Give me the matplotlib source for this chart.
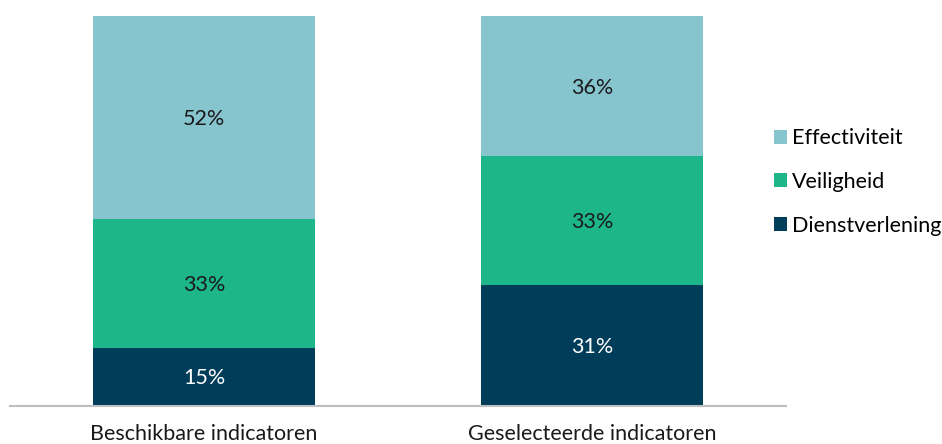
import matplotlib.pyplot as plt

categories = ["Beschikbare indicatoren", "Geselecteerde indicatoren"]
dienstverlening = [15, 31]
veiligheid = [33, 33]
effectiviteit = [52, 36]

series = [
    ("Dienstverlening", dienstverlening, "#003d5b", "white"),
    ("Veiligheid", veiligheid, "#1db68a", "#1a1a1a"),
    ("Effectiviteit", effectiviteit, "#86c4ce", "#1a1a1a"),
]

plt.rcParams["font.family"] = ["Lato", "DejaVu Sans"]

fig = plt.figure(figsize=(9.42, 4.44), dpi=100)
ax = fig.add_axes([10 / 942, 38 / 444, 776 / 942, 390 / 444])

x = range(len(categories))
bottom = [0] * len(categories)
handles = []
for name, vals, color, tcolor in series:
    bars = ax.bar(x, vals, 0.573, bottom=bottom, color=color, label=name)
    handles.append(bars)
    for i, v in enumerate(vals):
        ax.text(i, bottom[i] + v / 2 - 0.4, f"{v}%", ha="center", va="center",
                fontsize=15.5, color=tcolor)
    bottom = [b + v for b, v in zip(bottom, vals)]

ax.set_xlim(-0.5, 1.5)
ax.set_ylim(0, 100)
ax.set_xticks(list(x))
ax.set_xticklabels(categories, fontsize=15.5, color="#1a1a1a")
ax.tick_params(axis="x", length=0, pad=13)
ax.set_yticks([])
for s in ["top", "right", "left"]:
    ax.spines[s].set_visible(False)
ax.spines["bottom"].set_color("#bfbfbf")
ax.spines["bottom"].set_linewidth(1.5)

leg = fig.legend(handles[::-1], [s[0] for s in series][::-1],
                 loc="center left", bbox_to_anchor=(765 / 942, 1 - 182 / 444),
                 frameon=False, fontsize=15.5, handlelength=0.62, handleheight=0.62,
                 handletextpad=0.25, labelspacing=1.1, borderaxespad=0)

fig.savefig("out.png", dpi=100)
